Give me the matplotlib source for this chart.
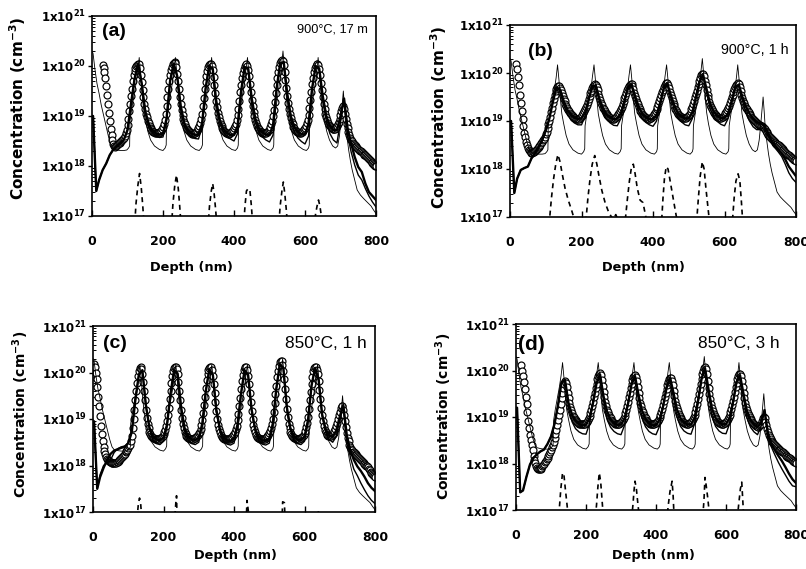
import numpy as np
import matplotlib.pyplot as plt
from matplotlib.ticker import LogLocator, NullFormatter

plt.rcParams['font.family'] = ['DejaVu Sans']
plt.rcParams['mathtext.fontset'] = 'dejavusans'
plt.rcParams['mathtext.default'] = 'bf'

# depth of the measured points (nm), one every 2.5 nm
depth = np.arange(0, 801, 2.5)
# depth of the simulated profiles (nm)
fit_depth = [0, 3, 12] + list(range(20, 801, 10))

# all concentrations are log10(cm^-3)
# measured profiles (circles)
circ_a = [
    None, None, None, None, None, None, None, None, None, None, None, None, 20.02, 19.96, 19.88, 19.76, 19.60, 19.42, 19.24, 19.07,
    18.90, 18.75, 18.62, 18.52, 18.45, 18.40, 18.39, 18.40, 18.42, 18.44, 18.46, 18.47, 18.48, 18.50, 18.52, 18.54, 18.56, 18.60, 18.66, 18.73,
    18.82, 18.95, 19.10, 19.25, 19.40, 19.54, 19.70, 19.82, 19.91, 19.96, 20.00, 20.03, 20.05, 20.04, 19.96, 19.83, 19.68, 19.52, 19.38, 19.25,
    19.14, 19.05, 18.98, 18.91, 18.86, 18.81, 18.77, 18.74, 18.71, 18.69, 18.68, 18.67, 18.66, 18.66, 18.66, 18.67, 18.68, 18.69, 18.71, 18.74,
    18.78, 18.84, 18.92, 19.04, 19.20, 19.38, 19.55, 19.70, 19.82, 19.92, 19.99, 20.04, 20.07, 20.08, 20.06, 19.98, 19.85, 19.70, 19.54, 19.39,
    19.25, 19.13, 19.03, 18.95, 18.89, 18.84, 18.79, 18.75, 18.72, 18.70, 18.68, 18.67, 18.66, 18.65, 18.65, 18.66, 18.67, 18.69, 18.71, 18.74,
    18.77, 18.81, 18.86, 18.94, 19.05, 19.20, 19.37, 19.54, 19.69, 19.81, 19.91, 19.98, 20.03, 20.05, 20.05, 20.01, 19.92, 19.78, 19.62, 19.46,
    19.31, 19.18, 19.07, 18.98, 18.91, 18.85, 18.80, 18.76, 18.73, 18.70, 18.68, 18.67, 18.66, 18.65, 18.65, 18.66, 18.67, 18.68, 18.70, 18.73,
    18.76, 18.80, 18.85, 18.92, 19.02, 19.15, 19.31, 19.48, 19.63, 19.76, 19.87, 19.95, 20.00, 20.03, 20.04, 20.01, 19.93, 19.80, 19.64, 19.48,
    19.33, 19.20, 19.09, 19.00, 18.92, 18.86, 18.81, 18.77, 18.74, 18.71, 18.69, 18.68, 18.67, 18.66, 18.66, 18.66, 18.67, 18.68, 18.70, 18.72,
    18.75, 18.79, 18.84, 18.91, 19.00, 19.13, 19.29, 19.46, 19.62, 19.77, 19.89, 19.99, 20.06, 20.10, 20.12, 20.10, 20.02, 19.89, 19.73, 19.56,
    19.40, 19.26, 19.14, 19.04, 18.96, 18.89, 18.84, 18.79, 18.76, 18.73, 18.71, 18.69, 18.68, 18.67, 18.67, 18.67, 18.68, 18.69, 18.71, 18.74,
    18.77, 18.81, 18.86, 18.93, 19.03, 19.16, 19.32, 19.49, 19.64, 19.77, 19.88, 19.96, 20.01, 20.04, 20.05, 20.02, 19.94, 19.82, 19.67, 19.52,
    19.38, 19.25, 19.14, 19.05, 18.98, 18.92, 18.87, 18.83, 18.80, 18.78, 18.76, 18.75, 18.74, 18.74, 18.75, 18.77, 18.80, 18.84, 18.89, 18.95,
    19.02, 19.10, 19.17, 19.20, 19.15, 19.05, 18.94, 18.84, 18.76, 18.68, 18.62, 18.57, 18.53, 18.50, 18.47, 18.45, 18.43, 18.41, 18.39, 18.37,
    18.35, 18.33, 18.31, 18.30, 18.28, 18.27, 18.25, 18.23, 18.22, 18.20, 18.18, 18.16, 18.14, 18.12, 18.10, 18.08, 18.06, 18.04, 18.03, 18.01,
    18.00]

circ_b = [
    None, None, None, None, None, None, None, 20.19, 20.08, 19.92, 19.74, 19.55, 19.37, 19.20, 19.04, 18.89, 18.76, 18.66, 18.57, 18.50,
    18.44, 18.40, 18.37, 18.35, 18.34, 18.34, 18.35, 18.36, 18.38, 18.40, 18.42, 18.44, 18.46, 18.48, 18.51, 18.54, 18.57, 18.60, 18.63, 18.67,
    18.72, 18.78, 18.85, 18.93, 19.01, 19.09, 19.18, 19.28, 19.37, 19.46, 19.55, 19.62, 19.67, 19.70, 19.72, 19.72, 19.69, 19.64, 19.58, 19.52,
    19.46, 19.41, 19.36, 19.31, 19.27, 19.23, 19.20, 19.17, 19.14, 19.12, 19.10, 19.08, 19.07, 19.06, 19.05, 19.05, 19.05, 19.05, 19.06, 19.08,
    19.10, 19.13, 19.16, 19.20, 19.24, 19.29, 19.34, 19.40, 19.46, 19.52, 19.58, 19.63, 19.68, 19.72, 19.75, 19.77, 19.76, 19.71, 19.64, 19.57,
    19.50, 19.44, 19.38, 19.33, 19.28, 19.24, 19.20, 19.17, 19.14, 19.12, 19.10, 19.08, 19.07, 19.06, 19.05, 19.05, 19.05, 19.06, 19.07, 19.09,
    19.11, 19.14, 19.17, 19.21, 19.25, 19.30, 19.35, 19.41, 19.47, 19.53, 19.59, 19.64, 19.69, 19.73, 19.76, 19.78, 19.77, 19.73, 19.66, 19.59,
    19.52, 19.46, 19.40, 19.35, 19.30, 19.25, 19.21, 19.18, 19.15, 19.12, 19.10, 19.08, 19.07, 19.06, 19.05, 19.05, 19.05, 19.06, 19.07, 19.09,
    19.11, 19.14, 19.17, 19.21, 19.25, 19.30, 19.36, 19.42, 19.48, 19.54, 19.60, 19.65, 19.70, 19.74, 19.77, 19.79, 19.79, 19.75, 19.68, 19.61,
    19.54, 19.47, 19.41, 19.36, 19.31, 19.26, 19.22, 19.18, 19.15, 19.13, 19.11, 19.09, 19.08, 19.07, 19.06, 19.06, 19.06, 19.07, 19.08, 19.10,
    19.12, 19.15, 19.19, 19.24, 19.29, 19.35, 19.42, 19.49, 19.56, 19.63, 19.70, 19.77, 19.84, 19.90, 19.95, 19.98, 19.98, 19.93, 19.84, 19.74,
    19.64, 19.55, 19.47, 19.40, 19.34, 19.29, 19.24, 19.20, 19.17, 19.14, 19.12, 19.10, 19.09, 19.08, 19.07, 19.07, 19.07, 19.08, 19.09, 19.11,
    19.13, 19.16, 19.19, 19.23, 19.27, 19.32, 19.37, 19.43, 19.49, 19.55, 19.61, 19.66, 19.71, 19.75, 19.78, 19.79, 19.77, 19.71, 19.63, 19.55,
    19.48, 19.42, 19.37, 19.32, 19.28, 19.24, 19.21, 19.18, 19.15, 19.12, 19.09, 19.06, 19.04, 19.02, 19.00, 18.98, 18.96, 18.94, 18.93, 18.92,
    18.91, 18.90, 18.89, 18.88, 18.86, 18.83, 18.80, 18.77, 18.74, 18.71, 18.68, 18.66, 18.64, 18.62, 18.60, 18.58, 18.57, 18.55, 18.53, 18.52,
    18.50, 18.49, 18.47, 18.46, 18.44, 18.42, 18.40, 18.38, 18.36, 18.34, 18.32, 18.30, 18.29, 18.27, 18.25, 18.23, 18.22, 18.20, 18.19, 18.18,
    18.17]

circ_c = [
    None, 20.18, 20.12, 20.00, 19.86, 19.68, 19.48, 19.27, 19.06, 18.85, 18.67, 18.52, 18.40, 18.31, 18.24, 18.19, 18.15, 18.12, 18.10, 18.08,
    18.07, 18.06, 18.05, 18.05, 18.05, 18.06, 18.06, 18.07, 18.08, 18.10, 18.12, 18.14, 18.16, 18.18, 18.20, 18.23, 18.25, 18.28, 18.31, 18.34,
    18.37, 18.41, 18.45, 18.52, 18.64, 18.80, 19.00, 19.20, 19.40, 19.60, 19.78, 19.93, 20.04, 20.10, 20.12, 20.08, 19.97, 19.80, 19.60, 19.40,
    19.20, 19.03, 18.90, 18.80, 18.72, 18.67, 18.63, 18.61, 18.60, 18.59, 18.58, 18.58, 18.58, 18.58, 18.58, 18.58, 18.59, 18.60, 18.62, 18.64,
    18.67, 18.71, 18.77, 18.85, 18.95, 19.08, 19.24, 19.42, 19.60, 19.78, 19.93, 20.04, 20.10, 20.12, 20.12, 20.08, 19.97, 19.80, 19.60, 19.40,
    19.20, 19.03, 18.90, 18.80, 18.72, 18.67, 18.63, 18.61, 18.60, 18.59, 18.58, 18.58, 18.58, 18.58, 18.58, 18.59, 18.60, 18.61, 18.63, 18.66,
    18.69, 18.73, 18.79, 18.87, 18.98, 19.12, 19.30, 19.48, 19.66, 19.83, 19.96, 20.05, 20.10, 20.12, 20.11, 20.05, 19.93, 19.76, 19.56, 19.36,
    19.17, 19.01, 18.88, 18.78, 18.71, 18.66, 18.62, 18.60, 18.59, 18.58, 18.57, 18.57, 18.57, 18.57, 18.57, 18.58, 18.59, 18.60, 18.62, 18.65,
    18.68, 18.72, 18.78, 18.86, 18.97, 19.11, 19.28, 19.46, 19.64, 19.81, 19.95, 20.05, 20.10, 20.12, 20.11, 20.05, 19.93, 19.76, 19.56, 19.36,
    19.17, 19.01, 18.88, 18.78, 18.71, 18.66, 18.62, 18.60, 18.59, 18.58, 18.57, 18.57, 18.57, 18.57, 18.58, 18.58, 18.59, 18.61, 18.63, 18.66,
    18.69, 18.74, 18.80, 18.89, 19.01, 19.16, 19.34, 19.53, 19.72, 19.90, 20.04, 20.15, 20.22, 20.25, 20.24, 20.17, 20.04, 19.86, 19.64, 19.42,
    19.21, 19.04, 18.90, 18.80, 18.72, 18.67, 18.63, 18.61, 18.60, 18.59, 18.58, 18.58, 18.58, 18.58, 18.58, 18.59, 18.60, 18.61, 18.63, 18.66,
    18.70, 18.75, 18.82, 18.92, 19.05, 19.22, 19.40, 19.58, 19.76, 19.91, 20.03, 20.09, 20.12, 20.11, 20.06, 19.96, 19.81, 19.62, 19.42, 19.24,
    19.08, 18.95, 18.85, 18.77, 18.72, 18.68, 18.66, 18.64, 18.63, 18.63, 18.64, 18.65, 18.67, 18.70, 18.74, 18.79, 18.85, 18.92, 19.00, 19.08,
    19.16, 19.23, 19.28, 19.28, 19.20, 19.08, 18.95, 18.82, 18.70, 18.60, 18.52, 18.45, 18.40, 18.36, 18.33, 18.30, 18.28, 18.26, 18.24, 18.22,
    18.20, 18.18, 18.16, 18.14, 18.12, 18.10, 18.08, 18.06, 18.04, 18.02, 18.00, 17.98, 17.96, 17.93, 17.90, 17.87, 17.84, 17.81, 17.79, 17.77,
    17.75]

circ_d = [
    None, None, None, None, None, None, 20.12, 20.00, 19.88, 19.75, 19.60, 19.44, 19.27, 19.10, 18.92, 18.76, 18.62, 18.50, 18.39, 18.28,
    18.17, 18.08, 18.01, 17.95, 17.91, 17.89, 17.88, 17.88, 17.89, 17.91, 17.94, 17.97, 18.00, 18.03, 18.06, 18.09, 18.12, 18.16, 18.20, 18.25,
    18.30, 18.35, 18.40, 18.47, 18.55, 18.63, 18.72, 18.82, 18.93, 19.04, 19.16, 19.28, 19.40, 19.52, 19.63, 19.72, 19.77, 19.74, 19.64, 19.52,
    19.40, 19.30, 19.21, 19.14, 19.08, 19.03, 18.99, 18.96, 18.93, 18.91, 18.89, 18.87, 18.86, 18.85, 18.84, 18.84, 18.84, 18.84, 18.85, 18.86,
    18.88, 18.90, 18.93, 18.97, 19.02, 19.08, 19.15, 19.23, 19.32, 19.42, 19.52, 19.62, 19.72, 19.81, 19.88, 19.93, 19.94, 19.90, 19.80, 19.67,
    19.54, 19.42, 19.32, 19.23, 19.16, 19.10, 19.05, 19.01, 18.97, 18.94, 18.91, 18.89, 18.87, 18.86, 18.85, 18.85, 18.85, 18.85, 18.86, 18.87,
    18.89, 18.91, 18.94, 18.98, 19.03, 19.09, 19.16, 19.24, 19.33, 19.42, 19.52, 19.62, 19.71, 19.79, 19.85, 19.89, 19.90, 19.86, 19.77, 19.65,
    19.52, 19.41, 19.31, 19.23, 19.16, 19.10, 19.05, 19.01, 18.97, 18.94, 18.91, 18.89, 18.87, 18.86, 18.85, 18.85, 18.85, 18.85, 18.86, 18.87,
    18.88, 18.90, 18.92, 18.95, 18.99, 19.04, 19.10, 19.17, 19.25, 19.34, 19.43, 19.52, 19.61, 19.69, 19.76, 19.81, 19.84, 19.84, 19.78, 19.68,
    19.56, 19.45, 19.35, 19.26, 19.19, 19.13, 19.07, 19.02, 18.98, 18.95, 18.92, 18.90, 18.88, 18.87, 18.86, 18.86, 18.86, 18.86, 18.87, 18.88,
    18.90, 18.92, 18.95, 18.99, 19.04, 19.11, 19.19, 19.28, 19.38, 19.49, 19.60, 19.71, 19.82, 19.92, 20.00, 20.06, 20.08, 20.03, 19.92, 19.78,
    19.63, 19.50, 19.38, 19.28, 19.20, 19.13, 19.07, 19.02, 18.98, 18.95, 18.92, 18.90, 18.88, 18.87, 18.86, 18.86, 18.86, 18.86, 18.87, 18.88,
    18.90, 18.92, 18.95, 18.99, 19.04, 19.10, 19.17, 19.25, 19.34, 19.44, 19.54, 19.64, 19.74, 19.82, 19.88, 19.92, 19.93, 19.88, 19.78, 19.65,
    19.52, 19.41, 19.31, 19.22, 19.15, 19.09, 19.04, 19.00, 18.96, 18.93, 18.90, 18.87, 18.85, 18.83, 18.81, 18.80, 18.79, 18.79, 18.80, 18.82,
    18.86, 18.92, 18.97, 19.00, 18.97, 18.90, 18.82, 18.74, 18.67, 18.61, 18.56, 18.52, 18.49, 18.46, 18.44, 18.42, 18.40, 18.38, 18.36, 18.34,
    18.32, 18.30, 18.29, 18.27, 18.25, 18.24, 18.22, 18.20, 18.19, 18.17, 18.15, 18.14, 18.12, 18.11, 18.09, 18.08, 18.06, 18.05, 18.04, 18.03,
    18.02]

# as-grown profile (thin line), same in every panel
thin_x = [0, 3, 8, 14, 20, 26, 33, 40, 47, 54, 60, 70, 80, 90, 98, 103, 106,
          107, 112, 118, 124, 129, 133, 137, 141, 145, 150, 157, 165, 176, 190, 200, 206, 209,
          210, 215, 221, 227, 231, 235, 239, 243, 247, 252, 259, 267, 278, 292, 302, 308, 311,
          312, 317, 323, 329, 333, 337, 341, 345, 349, 354, 361, 369, 380, 394, 404, 410, 412,
          413, 418, 424, 430, 434, 438, 442, 446, 450, 455, 462, 470, 481, 495, 504, 510, 512,
          513, 518, 524, 530, 534, 538, 542, 546, 550, 555, 562, 570, 581, 595, 604, 610, 612,
          613, 618, 624, 630, 634, 637, 641, 645, 649, 654, 661, 669, 678, 686, 692, 697, 701,
          705, 708, 711, 714, 718, 723, 728, 733, 740, 747, 756, 765, 772, 779, 786, 793, 800]
thin_y = [20.30, 20.25, 19.95, 19.65, 19.45, 19.22, 19.00, 18.78, 18.57, 18.40, 18.34, 18.32, 18.31, 18.31, 18.32, 18.36, 18.40,
          18.90, 19.15, 19.40, 19.65, 19.90, 20.17, 19.85, 19.45, 19.15, 18.95, 18.70, 18.52, 18.40, 18.33, 18.31, 18.36, 18.42,
          18.90, 19.15, 19.42, 19.70, 19.95, 20.17, 19.85, 19.45, 19.15, 18.95, 18.70, 18.52, 18.40, 18.33, 18.31, 18.36, 18.42,
          18.90, 19.15, 19.42, 19.70, 19.95, 20.17, 19.85, 19.45, 19.15, 18.95, 18.70, 18.52, 18.40, 18.33, 18.31, 18.36, 18.42,
          18.90, 19.15, 19.42, 19.70, 19.95, 20.17, 19.85, 19.45, 19.15, 18.95, 18.70, 18.52, 18.40, 18.33, 18.31, 18.36, 18.42,
          18.90, 19.15, 19.45, 19.75, 20.02, 20.30, 19.95, 19.50, 19.18, 18.95, 18.70, 18.52, 18.40, 18.33, 18.31, 18.36, 18.42,
          18.90, 19.15, 19.42, 19.70, 19.95, 20.17, 19.85, 19.45, 19.15, 18.95, 18.70, 18.52, 18.40, 18.36, 18.40, 18.60, 18.90,
          19.25, 19.50, 19.20, 18.85, 18.60, 18.32, 18.10, 17.92, 17.72, 17.52, 17.42, 17.35, 17.30, 17.25, 17.20, 17.12, 17.05]

# simulated profiles (thick = fit, medium = second fit), on fit_depth
fit_a = [19.0, 19.0, 17.5, 17.72, 17.92, 18.05, 18.22, 18.33, 18.40, 18.45, 18.53,
         18.72, 19.25, 19.75, 20.05, 19.65, 19.10, 18.84, 18.71, 18.65, 18.63,
         18.65, 18.95, 19.70, 20.05, 19.80, 19.20, 18.86, 18.71, 18.65, 18.62,
         18.64, 18.85, 19.55, 20.00, 19.95, 19.30, 18.92, 18.74, 18.66, 18.62,
         18.62, 18.80, 19.50, 19.98, 19.95, 19.35, 18.95, 18.76, 18.67, 18.63,
         18.62, 18.82, 19.55, 20.05, 20.08, 19.45, 19.00, 18.78, 18.68, 18.64,
         18.63, 18.85, 19.55, 20.00, 19.95, 19.40, 19.00, 18.80, 18.72, 18.72,
         19.00, 19.35, 18.75, 18.45, 18.18, 17.98, 17.88, 17.65, 17.48, 17.40,
         17.32]
fit2_a = [19.0, 19.0, 17.5, 17.72, 17.92, 18.05, 18.22, 18.33, 18.40, 18.45, 18.53,
          18.72, 19.25, 19.75, 20.05, 19.65, 19.05, 18.78, 18.66, 18.60, 18.57,
          18.58, 18.90, 19.70, 20.05, 19.78, 19.12, 18.80, 18.66, 18.59, 18.55,
          18.54, 18.78, 19.55, 20.00, 19.92, 19.22, 18.85, 18.68, 18.59, 18.54,
          18.50, 18.65, 19.50, 19.98, 19.92, 19.25, 18.88, 18.68, 18.58, 18.52,
          18.48, 18.62, 19.55, 20.05, 20.05, 19.35, 18.90, 18.68, 18.56, 18.49,
          18.44, 18.60, 19.55, 20.00, 19.92, 19.30, 18.90, 18.65, 18.52, 18.46,
          18.90, 19.35, 18.62, 18.28, 18.02, 17.82, 17.72, 17.55, 17.40, 17.28,
          17.18]

fit_b = [19.0, 19.0, 17.5, 17.80, 17.98, 18.02, 18.05, 18.22, 18.33, 18.45, 18.60,
         18.80, 19.05, 19.40, 19.70, 19.66, 19.42, 19.24, 19.13, 19.07, 19.04,
         19.06, 19.18, 19.45, 19.72, 19.74, 19.47, 19.27, 19.13, 19.07, 19.04,
         19.05, 19.16, 19.42, 19.70, 19.76, 19.52, 19.30, 19.15, 19.08, 19.04,
         19.04, 19.13, 19.38, 19.68, 19.78, 19.54, 19.32, 19.16, 19.09, 19.05,
         19.06, 19.18, 19.50, 19.82, 19.96, 19.66, 19.36, 19.19, 19.11, 19.06,
         19.06, 19.16, 19.42, 19.70, 19.76, 19.50, 19.30, 19.15, 19.05, 18.98,
         18.95, 18.92, 18.78, 18.62, 18.50, 18.40, 18.32, 18.20, 18.05, 17.95,
         17.85]
fit2_b = [19.0, 19.0, 17.5, 17.80, 17.98, 18.02, 18.05, 18.22, 18.33, 18.45, 18.60,
          18.80, 19.05, 19.40, 19.70, 19.62, 19.35, 19.15, 19.03, 18.96, 18.92,
          18.92, 19.10, 19.45, 19.72, 19.70, 19.40, 19.18, 19.04, 18.96, 18.91,
          18.90, 19.05, 19.40, 19.70, 19.72, 19.45, 19.20, 19.05, 18.97, 18.92,
          18.89, 19.00, 19.35, 19.68, 19.75, 19.47, 19.22, 19.07, 18.98, 18.92,
          18.90, 19.05, 19.48, 19.82, 19.94, 19.58, 19.26, 19.09, 18.99, 18.93,
          18.90, 19.05, 19.40, 19.70, 19.72, 19.42, 19.18, 19.00, 18.88, 18.82,
          18.82, 18.86, 18.72, 18.58, 18.45, 18.36, 18.26, 18.10, 17.92, 17.80,
          17.72]

fit_c = [18.95, 18.95, 17.5, 17.75, 17.95, 18.12, 18.25, 18.32, 18.35, 18.38, 18.40,
         18.48, 18.72, 19.40, 19.95, 20.05, 19.30, 18.82, 18.62, 18.56, 18.55,
         18.60, 18.88, 19.55, 20.05, 19.98, 19.25, 18.80, 18.62, 18.56, 18.55,
         18.60, 18.90, 19.60, 20.07, 19.95, 19.20, 18.78, 18.60, 18.54, 18.53,
         18.58, 18.88, 19.55, 20.05, 19.95, 19.20, 18.78, 18.60, 18.54, 18.53,
         18.58, 18.90, 19.65, 20.18, 20.10, 19.25, 18.80, 18.62, 18.56, 18.55,
         18.62, 18.98, 19.72, 20.10, 19.85, 19.10, 18.78, 18.64, 18.62, 18.75,
         19.05, 19.30, 18.65, 18.32, 18.12, 17.98, 17.88, 17.76, 17.62, 17.52,
         17.45]
fit2_c = [18.95, 18.95, 17.5, 17.80, 18.00, 18.05, 18.12, 18.28, 18.36, 18.40, 18.42,
          18.48, 18.72, 19.40, 19.95, 20.05, 19.28, 18.78, 18.55, 18.47, 18.45,
          18.52, 18.85, 19.55, 20.05, 19.96, 19.22, 18.75, 18.55, 18.47, 18.45,
          18.50, 18.85, 19.60, 20.07, 19.93, 19.17, 18.74, 18.54, 18.46, 18.44,
          18.48, 18.82, 19.55, 20.05, 19.93, 19.17, 18.74, 18.54, 18.46, 18.44,
          18.48, 18.85, 19.65, 20.18, 20.08, 19.22, 18.76, 18.56, 18.47, 18.45,
          18.52, 18.92, 19.72, 20.10, 19.83, 19.06, 18.72, 18.56, 18.50, 18.62,
          18.98, 19.28, 18.58, 18.18, 17.92, 17.78, 17.62, 17.48, 17.35, 17.25,
          17.18]

fit_d = [19.2, 19.2, 17.38, 17.42, 17.72, 17.98, 18.12, 18.20, 18.26, 18.30, 18.42,
         18.58, 18.85, 19.25, 19.75, 19.80, 19.30, 19.05, 18.92, 18.85, 18.82,
         18.84, 18.98, 19.30, 19.72, 19.92, 19.45, 19.12, 18.95, 18.86, 18.83,
         18.84, 18.97, 19.28, 19.70, 19.88, 19.48, 19.14, 18.96, 18.86, 18.82,
         18.83, 18.94, 19.22, 19.62, 19.85, 19.52, 19.16, 18.97, 18.88, 18.84,
         18.84, 18.98, 19.35, 19.82, 20.05, 19.60, 19.18, 18.98, 18.88, 18.84,
         18.85, 18.98, 19.32, 19.75, 19.90, 19.50, 19.12, 18.94, 18.84, 18.78,
         18.88, 19.15, 18.65, 18.42, 18.28, 18.16, 18.05, 17.92, 17.78, 17.66,
         17.58]
fit2_d = [19.2, 19.2, 17.38, 17.42, 17.72, 17.98, 18.12, 18.20, 18.26, 18.30, 18.42,
          18.58, 18.85, 19.25, 19.75, 19.78, 19.20, 18.90, 18.75, 18.68, 18.64,
          18.63, 18.85, 19.30, 19.72, 19.90, 19.35, 18.95, 18.78, 18.69, 18.64,
          18.62, 18.82, 19.28, 19.70, 19.86, 19.38, 18.98, 18.79, 18.69, 18.64,
          18.62, 18.80, 19.22, 19.62, 19.83, 19.42, 19.00, 18.80, 18.70, 18.65,
          18.63, 18.85, 19.35, 19.82, 20.03, 19.50, 19.02, 18.80, 18.70, 18.65,
          18.64, 18.85, 19.32, 19.75, 19.88, 19.40, 18.98, 18.78, 18.68, 18.62,
          18.80, 19.12, 18.58, 18.35, 18.18, 18.02, 17.88, 17.75, 17.62, 17.52,
          17.50]

# dashed profiles (values below 17 sit under the axis)
dash_a_x = [0, 120, 124, 129, 134, 139, 143, 147, 224, 228, 233, 238, 243, 247, 251,
            327, 331, 336, 340, 344, 348, 352, 427, 431, 435, 440, 445, 449, 453,
            526, 530, 535, 539, 543, 547, 551, 626, 630, 634, 638, 642, 646, 650, 800]
dash_a_y = [16.8, 16.8, 17.25, 17.6, 17.85, 17.55, 17.2, 16.8, 16.8, 17.25, 17.6, 17.82, 17.55, 17.2, 16.8,
            16.8, 17.2, 17.5, 17.65, 17.45, 17.15, 16.8, 16.8, 17.2, 17.5, 17.55, 17.5, 17.2, 16.8,
            16.8, 17.2, 17.5, 17.68, 17.45, 17.15, 16.8, 16.8, 17.05, 17.2, 17.32, 17.2, 17.0, 16.8, 16.8]

dash_b_x = [0, 110, 116, 122, 128, 134, 140, 146, 154, 163, 172, 180, 186,
            212, 218, 224, 230, 237, 243, 249, 257, 266, 276, 288, 296, 304,
            322, 328, 334, 340, 345, 350, 356, 364, 372, 380, 386,
            424, 428, 432, 437, 442, 448, 455, 462, 468,
            522, 527, 532, 538, 543, 548, 553, 558,
            622, 627, 632, 638, 643, 647, 651, 800]
dash_b_y = [16.8, 16.9, 17.4, 17.8, 18.1, 18.3, 18.15, 17.9, 17.6, 17.35, 17.15, 16.95, 16.8,
            16.9, 17.4, 17.8, 18.1, 18.28, 18.1, 17.85, 17.55, 17.3, 17.1, 16.95, 17.05, 16.9,
            16.9, 17.35, 17.75, 18.05, 18.1, 17.9, 17.6, 17.35, 17.3, 17.0, 16.8,
            16.9, 17.4, 17.8, 18.05, 18.0, 17.75, 17.45, 17.15, 16.9,
            16.9, 17.4, 17.85, 18.15, 18.0, 17.6, 17.25, 16.9,
            16.9, 17.4, 17.75, 17.9, 17.75, 17.35, 16.9, 16.8]

dash_c_x = [0, 124, 126, 129, 132, 135, 137, 139, 231, 233, 235, 237, 238, 240,
            435, 437, 441, 443, 535, 537, 538, 543, 544, 546, 637, 639, 640, 800]
dash_c_y = [16.8, 16.8, 16.95, 17.2, 17.3, 17.2, 17.0, 16.8, 16.8, 16.98, 17.2, 17.35, 17.0, 16.8,
            16.9, 17.25, 17.0, 16.8, 16.8, 17.0, 17.22, 17.2, 17.0, 16.8, 16.9, 17.05, 16.9, 16.8]

dash_d_x = [0, 120, 124, 128, 133, 137, 141, 146, 150, 226, 230, 234, 238, 242, 246, 250,
            330, 334, 337, 340, 344, 348, 353, 431, 435, 440, 446, 449, 452,
            533, 537, 540, 543, 548, 554, 632, 636, 641, 645, 648, 651, 800]
dash_d_y = [16.8, 16.8, 17.05, 17.45, 17.8, 17.75, 17.45, 17.1, 16.8, 16.8, 17.1, 17.5, 17.8, 17.6, 17.2, 16.8,
            16.8, 17.1, 17.4, 17.62, 17.45, 17.15, 16.8, 16.8, 17.1, 17.4, 17.62, 17.3, 16.8,
            16.8, 17.2, 17.7, 17.55, 17.25, 16.8, 16.8, 17.1, 17.45, 17.6, 17.2, 16.8, 16.8]

letters = ['(a)', '(b)', '(c)', '(d)']
conditions = ['900\u00b0C, 17 m', '900\u00b0C, 1 h', '850\u00b0C, 1 h', '850\u00b0C, 3 h']

W, H = 806, 569
fig = plt.figure(figsize=(W / 100, H / 100), dpi=100)


def box(l, t, r, b):
    return [l / W, 1 - b / H, (r - l) / W, (b - t) / H]


def ftext(x, y, s, **kw):
    fig.text(x / W, 1 - y / H, s, **kw)


panels = [
    (box(92, 16, 376, 216), circ_a, fit_a, fit2_a, dash_a_x, dash_a_y),
    (box(510, 25, 796, 217), circ_b, fit_b, fit2_b, dash_b_x, dash_b_y),
    (box(93, 326, 375, 512), circ_c, fit_c, fit2_c, dash_c_x, dash_c_y),
    (box(516, 324, 796, 510), circ_d, fit_d, fit2_d, dash_d_x, dash_d_y),
]

for rect, circ, fit1, fit2, dx, dy in panels:
    ax = fig.add_axes(rect)
    ax.plot(depth, 10 ** np.array(circ, dtype=float), 'o', ms=5, mfc='white',
            mec='black', mew=0.85, zorder=2)
    ax.plot(thin_x, 10 ** np.array(thin_y), color='black', lw=0.6, zorder=3)
    ax.plot(fit_depth, 10 ** np.array(fit2), color='black', lw=1.0, zorder=3)
    ax.plot(fit_depth, 10 ** np.array(fit1), color='black', lw=1.7, zorder=3)
    ax.plot(dx, 10 ** np.array(dy), color='black', lw=1.2, ls=(0, (3, 2.5)), zorder=3)
    ax.set_yscale('log')
    ax.set_xlim(0, 800)
    ax.set_ylim(1e17, 1e21)
    ax.set_yticks([1e17, 1e18, 1e19, 1e20, 1e21])
    ax.set_yticklabels(['1x10$^{%d}$' % e for e in range(17, 22)],
                       fontsize=8.5, fontweight='bold')
    ax.yaxis.set_minor_locator(LogLocator(base=10, subs=np.arange(2, 10), numticks=20))
    ax.yaxis.set_minor_formatter(NullFormatter())
    ax.set_xticks([0, 200, 400, 600, 800])
    ax.set_xticklabels(['0', '200', '400', '600', '800'], fontsize=9, fontweight='bold')
    ax.tick_params(axis='y', which='major', direction='out', length=3, width=1, pad=1)
    ax.tick_params(axis='y', which='minor', direction='in', length=2.5, width=0.7)
    ax.tick_params(axis='x', which='major', direction='in', length=4, width=1, pad=14)
    for sp in ax.spines.values():
        sp.set_linewidth(1.2)

# panel letters and annealing conditions
lab = dict(family='Liberation Sans', fontweight='bold', va='center')
cond = dict(family='Liberation Sans', ha='right', va='center')
ftext(102, 32, letters[0], fontsize=14, **lab)
ftext(368, 30, conditions[0], fontsize=9.2, **cond)
ftext(528, 51, letters[1], fontsize=14, **lab)
ftext(789, 50, conditions[1], fontsize=10.3, **cond)
ftext(103, 343, letters[2], fontsize=14, **lab)
ftext(367, 343, conditions[2], fontsize=12.4, **cond)
ftext(518, 344, letters[3], fontsize=15, **lab)
ftext(780, 343, conditions[3], fontsize=12.4, **cond)

# axis titles
ylab = 'Concentration (cm$^{-3}$)'
xt = dict(fontweight='bold', ha='center', va='center')
yt = dict(fontweight='bold', rotation=90, ha='center', va='center')
ftext(191, 267, 'Depth (nm)', fontsize=9.3, **xt)
ftext(643, 268, 'Depth (nm)', fontsize=9.3, **xt)
ftext(235, 556, 'Depth (nm)', fontsize=9.3, **xt)
ftext(653, 556, 'Depth (nm)', fontsize=9.3, **xt)
ftext(18, 108, ylab, fontsize=11, **yt)
ftext(439, 117, ylab, fontsize=11, **yt)
ftext(21, 414, ylab, fontsize=10, **yt)
ftext(444, 416, ylab, fontsize=10, **yt)

fig.savefig('out.png', dpi=100)
